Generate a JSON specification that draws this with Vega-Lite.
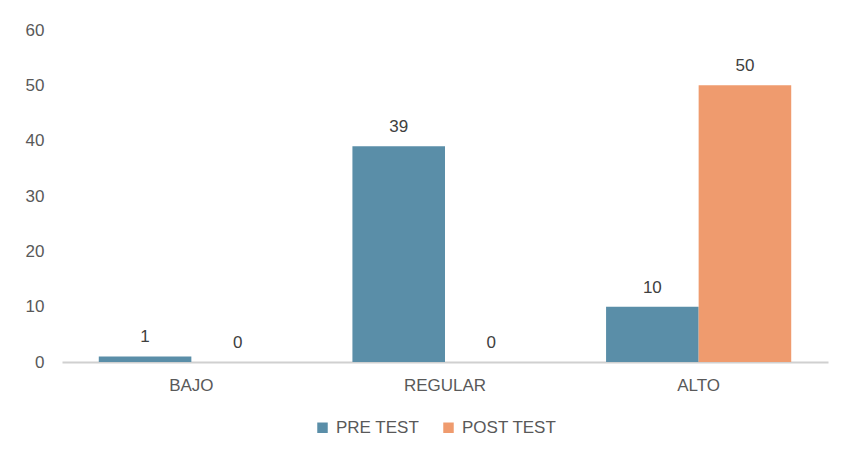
{
  "$schema": "https://vega.github.io/schema/vega-lite/v6.json",
  "width": 766,
  "height": 332,
  "autosize": {"type": "none"},
  "padding": {"left": 62, "top": 30, "right": 14, "bottom": 93},
  "background": "#ffffff",
  "config": {
    "view": {"stroke": null},
    "font": "Liberation Sans",
    "text": {"font": "Liberation Sans"}
  },
  "data": {
    "values": [
      {"nivel": "BAJO", "grupo": "PRE TEST", "valor": 1},
      {"nivel": "BAJO", "grupo": "POST TEST", "valor": 0},
      {"nivel": "REGULAR", "grupo": "PRE TEST", "valor": 39},
      {"nivel": "REGULAR", "grupo": "POST TEST", "valor": 0},
      {"nivel": "ALTO", "grupo": "PRE TEST", "valor": 10},
      {"nivel": "ALTO", "grupo": "POST TEST", "valor": 50}
    ]
  },
  "encoding": {
    "x": {
      "field": "nivel",
      "type": "nominal",
      "sort": ["BAJO", "REGULAR", "ALTO"],
      "scale": {"paddingInner": 0.27, "paddingOuter": 0.145},
      "axis": {
        "title": null,
        "labelAngle": 0,
        "labelFontSize": 17,
        "labelColor": "#595959",
        "labelPadding": 15,
        "ticks": false,
        "domainColor": "#d0d0d0",
        "domainWidth": 2,
        "grid": false
      }
    },
    "xOffset": {"field": "grupo", "type": "nominal", "sort": ["PRE TEST", "POST TEST"], "scale": {"paddingInner": 0, "paddingOuter": 0}},
    "y": {
      "field": "valor",
      "type": "quantitative",
      "scale": {"domain": [0, 60], "nice": false},
      "axis": {
        "title": null,
        "values": [0, 10, 20, 30, 40, 50, 60],
        "grid": false,
        "domain": false,
        "ticks": false,
        "labelPadding": 18,
        "labelFontSize": 17,
        "labelColor": "#595959"
      }
    }
  },
  "layer": [
    {
      "mark": {"type": "bar"},
      "encoding": {
        "color": {
          "field": "grupo",
          "type": "nominal",
          "sort": ["PRE TEST", "POST TEST"],
          "scale": {"domain": ["PRE TEST", "POST TEST"], "range": ["#5a8ea8", "#ef9b6e"]},
          "legend": {
            "title": null,
            "orient": "none",
            "direction": "horizontal",
            "legendX": 252,
            "legendY": 389,
            "symbolType": "square",
            "symbolSize": 110,
            "symbolStrokeWidth": 0,
            "labelFontSize": 17,
            "labelColor": "#595959",
            "columnPadding": 20,
            "labelOffset": 5
          }
        }
      }
    },
    {
      "mark": {"type": "text", "dy": -19, "fontSize": 17, "color": "#404040", "baseline": "middle"},
      "encoding": {
        "text": {"field": "valor", "type": "quantitative"}
      }
    }
  ]
}
